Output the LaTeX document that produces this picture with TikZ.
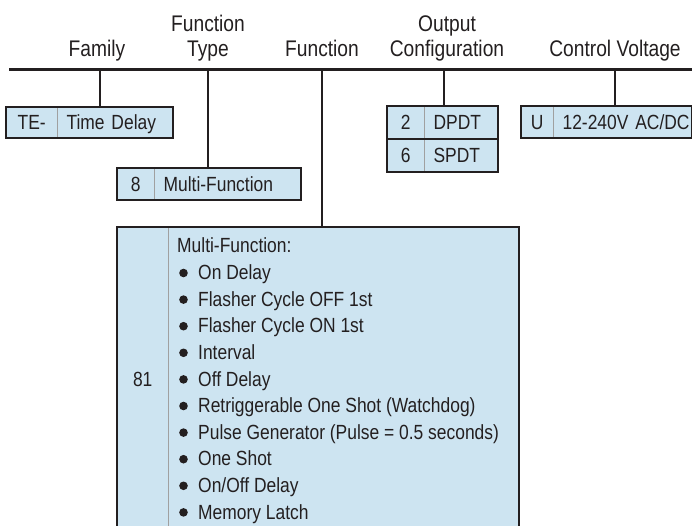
\documentclass[tikz,border=0pt]{standalone}
\usepackage{fontspec}
\setmainfont[FakeStretch=0.85]{Liberation Sans}
\usepackage{xcolor}
\usepackage{tikz}
\usetikzlibrary{positioning}
\definecolor{boxblue}{RGB}{205,228,241}
\definecolor{inkgray}{RGB}{35,31,32}
\definecolor{rulegray}{RGB}{160,160,160}
\newcommand\boxfont{\fontsize{20.5}{26.6}\selectfont}
\newcommand\hdrfont{\fontsize{22.6}{25}\selectfont}

\tikzset{
  hdr/.style={anchor=base, inner sep=0pt, font=\hdrfont, text=inkgray},
  codecell/.style={fill=boxblue, inner sep=0pt, anchor=north west, font=\boxfont,
    text=inkgray, text height=14.5pt, text depth=0pt},
  desccell/.style={fill=boxblue, inner xsep=9pt, inner ysep=0pt, anchor=north west,
    font=\boxfont, text=inkgray, text height=14.5pt, text depth=0pt, align=left},
  itemtext/.style={anchor=base west, inner sep=0pt, font=\boxfont, text=inkgray},
  boxline/.style={draw=inkgray, line width=2.2pt},
  divider/.style={draw=rulegray, line width=1.3pt},
  bus/.style={draw=inkgray, line width=3pt},
  link/.style={draw=inkgray, line width=2pt}
}

\begin{document}
\begin{tikzpicture}[x=1pt, y=-1pt]
    \useasboundingbox (0,0) rectangle (692,526);
    \clip (0,0) rectangle (692,526);

    % Headings
    \node[hdr] (family) at (97,57) {Family};
    \node[hdr] (typetop) at (208,32) {Function};
    \node[hdr] (type) at (208,57) {Type};
    \node[hdr] (function) at (322,57) {Function};
    \node[hdr] (outtop) at (447,32) {Output};
    \node[hdr] (output) at (447,57) {Configuration};
    \node[hdr] (voltage) at (615,57) {Control Voltage};

    % Bus line
    \coordinate (busl) at (9,70);
    \coordinate (busr) at (692,70);
    \draw[bus] (busl) -- (busr);
    \coordinate (busfam) at (100,70);
    \coordinate (bustype) at (208,70);
    \coordinate (busfn) at (322,70);
    \coordinate (busout) at (444,70);
    \coordinate (busvolt) at (615,70);

    % Family
    \node[codecell, minimum width=51pt, minimum height=31pt] (te) at (6,107) {TE-};
    \node[desccell, text width=97pt, minimum height=31pt] (tedesc) at (te.north east) {Time Delay};
    \draw[divider] (te.north east) -- (te.south east);
    \draw[boxline] (te.north west) rectangle (tedesc.south east);

    % Function type
    \node[codecell, minimum width=37pt, minimum height=32pt] (mf) at (117,168) {8};
    \node[desccell, text width=128pt, minimum height=32pt] (mfdesc) at (mf.north east) {Multi-Function};
    \draw[divider] (mf.north east) -- (mf.south east);
    \draw[boxline] (mf.north west) rectangle (mfdesc.south east);

    % Function
    \node[codecell, minimum width=51pt, minimum height=305pt] (fn) at (117,227) {81};
    \node[fill=boxblue, inner sep=0pt, anchor=north west, minimum width=350pt,
      minimum height=305pt] (fndesc) at (fn.north east) {};
    \draw[divider] (fn.north east) -- (fn.south east);
    \draw[boxline] (fn.north west) rectangle (fndesc.south east);
    \node[itemtext] (listhead) at (177,253) {Multi-Function:};
    \foreach \fname [count=\i] in {On Delay, Flasher Cycle OFF 1st, Flasher Cycle ON 1st,
        Interval, Off Delay, Retriggerable One Shot (Watchdog),
        Pulse Generator (Pulse = 0.5 seconds), One Shot, On/Off Delay, Memory Latch}{
      \node[itemtext] (item\i) at (198,{253+26.6*\i}) {\fname};
      \fill[inkgray] (183.5,{246.4+26.6*\i}) circle (4.3);
    }

    % Output configuration
    \node[codecell, minimum width=37pt, minimum height=32.5pt] (dp) at (387,106) {2};
    \node[desccell, text width=55pt, minimum height=32.5pt] (dpdesc) at (dp.north east) {DPDT};
    \node[codecell, minimum width=37pt, minimum height=32.5pt] (sp) at (dp.south west) {6};
    \node[desccell, text width=55pt, minimum height=32.5pt] (spdesc) at (sp.north east) {SPDT};
    \draw[divider] (dp.north east) -- (sp.south east);
    \draw[boxline] (dp.north west) rectangle (spdesc.south east);
    \draw[boxline] (dp.south west) -- (dpdesc.south east);

    % Control voltage
    \node[codecell, minimum width=32pt, minimum height=32pt] (uv) at (521,106) {U};
    \node[desccell, text width=120pt, minimum height=32pt] (uvdesc) at (uv.north east) {\mbox{12-240V AC/DC}};
    \draw[divider] (uv.north east) -- (uv.south east);
    \draw[boxline] (uv.north west) rectangle (uvdesc.south east);

    % Connectors
    \draw[link] (busfam) -- (busfam |- tedesc.north);
    \draw[link] (bustype) -- (bustype |- mfdesc.north);
    \draw[link] (busfn) -- (busfn |- fndesc.north);
    \draw[link] (busout) -- (busout |- dpdesc.north);
    \draw[link] (busvolt) -- (busvolt |- uvdesc.north);
\end{tikzpicture}
\end{document}
